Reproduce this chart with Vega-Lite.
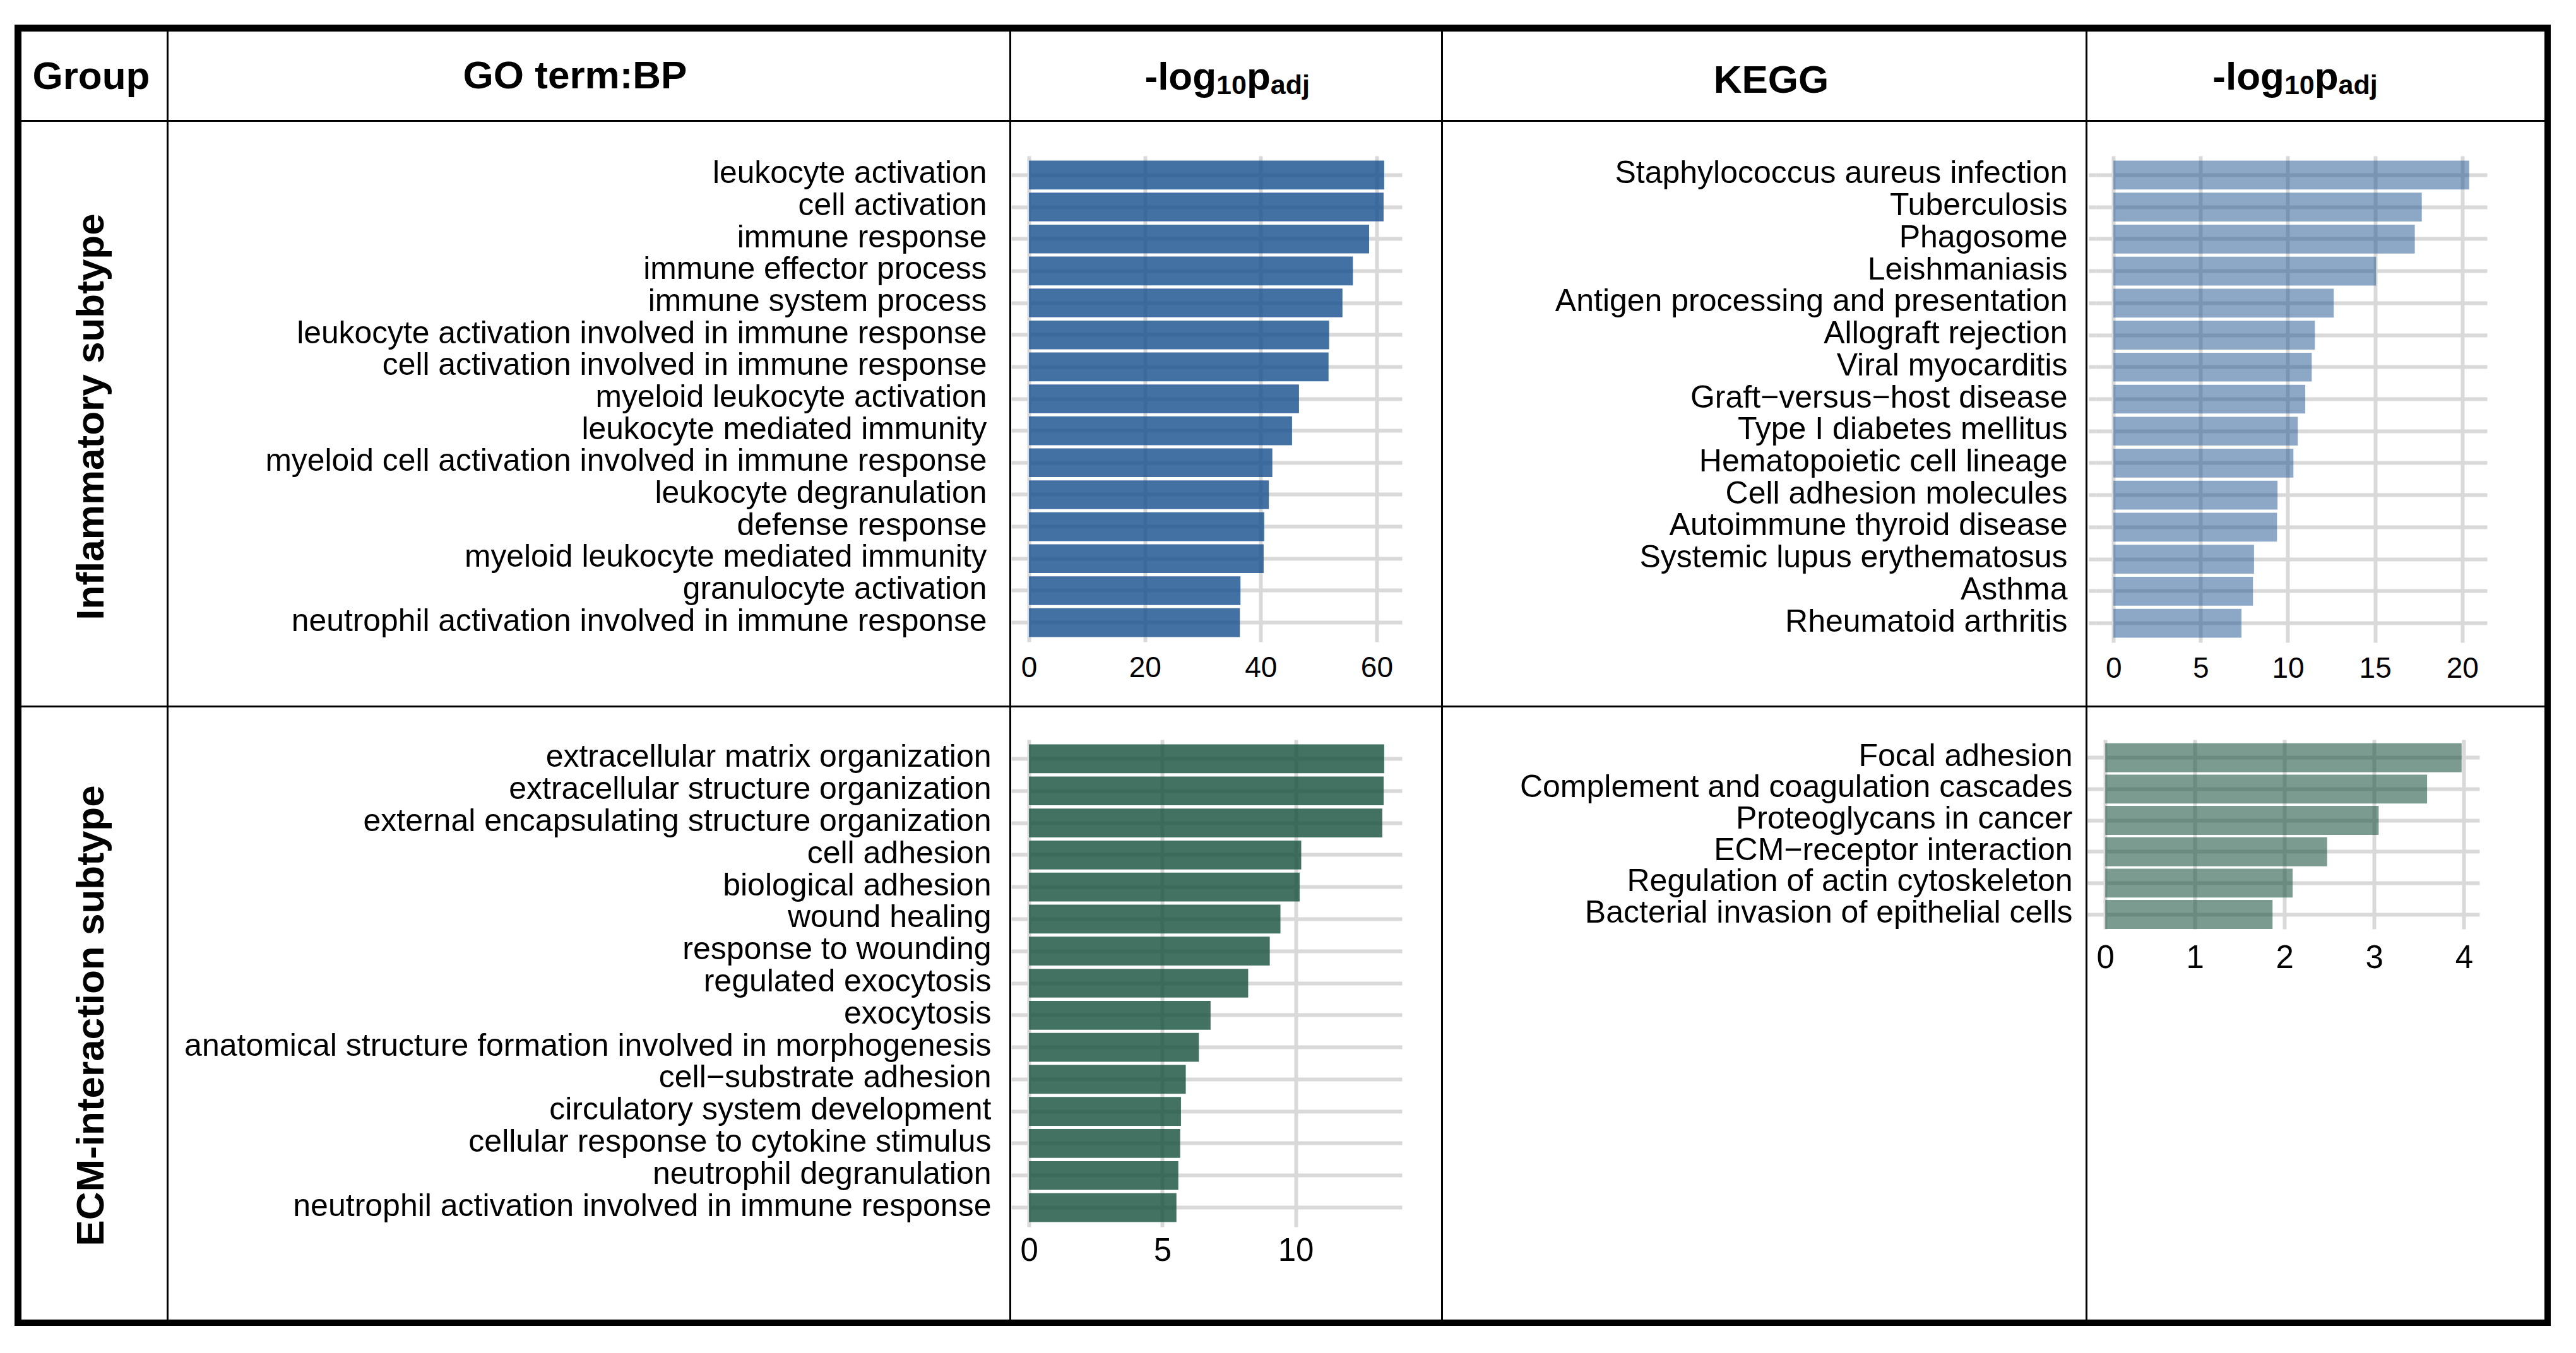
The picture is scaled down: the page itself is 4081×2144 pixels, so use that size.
{
"$schema": "https://vega.github.io/schema/vega-lite/v6.json",
"padding": {"left": 23, "top": 39, "right": 0, "bottom": 0},
"background": "#ffffff",
"config": {"view": {"stroke": null}, "font": "Liberation Sans", "concat": {"spacing": 0}, "axis": {"labelFont": "Liberation Sans", "labelColor": "#000"}},
"datasets": {
"goInf": [
{"term": "leukocyte activation", "value": 61.3},
{"term": "cell activation", "value": 61.2},
{"term": "immune response", "value": 58.7},
{"term": "immune effector process", "value": 55.9},
{"term": "immune system process", "value": 54.1},
{"term": "leukocyte activation involved in immune response", "value": 51.8},
{"term": "cell activation involved in immune response", "value": 51.7},
{"term": "myeloid leukocyte activation", "value": 46.6},
{"term": "leukocyte mediated immunity", "value": 45.4},
{"term": "myeloid cell activation involved in immune response", "value": 42.0},
{"term": "leukocyte degranulation", "value": 41.4},
{"term": "defense response", "value": 40.6},
{"term": "myeloid leukocyte mediated immunity", "value": 40.5},
{"term": "granulocyte activation", "value": 36.5},
{"term": "neutrophil activation involved in immune response", "value": 36.4}
],
"keggInf": [
{"term": "Staphylococcus aureus infection", "value": 20.4},
{"term": "Tuberculosis", "value": 17.68},
{"term": "Phagosome", "value": 17.28},
{"term": "Leishmaniasis", "value": 15.06},
{"term": "Antigen processing and presentation", "value": 12.63},
{"term": "Allograft rejection", "value": 11.55},
{"term": "Viral myocarditis", "value": 11.37},
{"term": "Graft\u2212versus\u2212host disease", "value": 11.0},
{"term": "Type I diabetes mellitus", "value": 10.57},
{"term": "Hematopoietic cell lineage", "value": 10.32},
{"term": "Cell adhesion molecules", "value": 9.41},
{"term": "Autoimmune thyroid disease", "value": 9.38},
{"term": "Systemic lupus erythematosus", "value": 8.06},
{"term": "Asthma", "value": 8.0},
{"term": "Rheumatoid arthritis", "value": 7.34}
],
"goEcm": [
{"term": "extracellular matrix organization", "value": 13.32},
{"term": "extracellular structure organization", "value": 13.30},
{"term": "external encapsulating structure organization", "value": 13.25},
{"term": "cell adhesion", "value": 10.21},
{"term": "biological adhesion", "value": 10.15},
{"term": "wound healing", "value": 9.43},
{"term": "response to wounding", "value": 9.03},
{"term": "regulated exocytosis", "value": 8.22},
{"term": "exocytosis", "value": 6.81},
{"term": "anatomical structure formation involved in morphogenesis", "value": 6.37},
{"term": "cell\u2212substrate adhesion", "value": 5.88},
{"term": "circulatory system development", "value": 5.70},
{"term": "cellular response to cytokine stimulus", "value": 5.67},
{"term": "neutrophil degranulation", "value": 5.60},
{"term": "neutrophil activation involved in immune response", "value": 5.53}
],
"keggEcm": [
{"term": "Focal adhesion", "value": 3.975},
{"term": "Complement and coagulation cascades", "value": 3.59},
{"term": "Proteoglycans in cancer", "value": 3.05},
{"term": "ECM\u2212receptor interaction", "value": 2.475},
{"term": "Regulation of actin cytoskeleton", "value": 2.09},
{"term": "Bacterial invasion of epithelial cells", "value": 1.866}
]
},
"spacing": 0,
"vconcat": [
{"width": 4018, "height": 11, "data": {"values": []}, "mark": "point", "view": {"fill": "#000"}},
{"hconcat": [
  {"width": 11, "height": 140, "data": {"values": []}, "mark": "point", "view": {"fill": "#000"}},
  {"width": 230, "height": 140, "data": {"values": [{"label": "Group"}]}, "mark": {"type": "text", "fontSize": 62, "fontWeight": "bold", "color": "#000", "baseline": "alphabetic", "dx": -4.5, "dy": 20.7}, "encoding": {"text": {"field": "label"}}},
  {"width": 3, "height": 140, "data": {"values": []}, "mark": "point", "view": {"fill": "#000"}},
  {"width": 1332, "height": 140, "data": {"values": [{"label": "GO term:BP"}]}, "mark": {"type": "text", "fontSize": 62, "fontWeight": "bold", "color": "#000", "baseline": "alphabetic", "dx": -22, "dy": 20}, "encoding": {"text": {"field": "label"}}},
  {"width": 3, "height": 140, "data": {"values": []}, "mark": "point", "view": {"fill": "#000"}},
  {"width": 681, "height": 140, "data": {"values": [{"label": "-log10padj"}]}, "layer": [
    {"mark": {"type": "text", "text": "-log", "fontSize": 62, "fontWeight": "bold", "color": "#000", "align": "left", "baseline": "alphabetic", "dx": -129, "dy": 21.7}},
    {"mark": {"type": "text", "text": "10", "fontSize": 43, "fontWeight": "bold", "color": "#000", "align": "left", "baseline": "alphabetic", "dx": -15.4, "dy": 28.5}},
    {"mark": {"type": "text", "text": "p", "fontSize": 62, "fontWeight": "bold", "color": "#000", "align": "left", "baseline": "alphabetic", "dx": 32.4, "dy": 21.7}},
    {"mark": {"type": "text", "text": "adj", "fontSize": 43, "fontWeight": "bold", "color": "#000", "align": "left", "baseline": "alphabetic", "dx": 70.3, "dy": 28.5}}
  ]},
  {"width": 3, "height": 140, "data": {"values": []}, "mark": "point", "view": {"fill": "#000"}},
  {"width": 1018, "height": 140, "data": {"values": [{"label": "KEGG"}]}, "mark": {"type": "text", "fontSize": 62, "fontWeight": "bold", "color": "#000", "baseline": "alphabetic", "dx": 11, "dy": 26.7}, "encoding": {"text": {"field": "label"}}},
  {"width": 3, "height": 140, "data": {"values": []}, "mark": "point", "view": {"fill": "#000"}},
  {"width": 724, "height": 140, "data": {"values": [{"label": "-log10padj"}]}, "layer": [
    {"mark": {"type": "text", "text": "-log", "fontSize": 62, "fontWeight": "bold", "color": "#000", "align": "left", "baseline": "alphabetic", "dx": -163.7, "dy": 21.7}},
    {"mark": {"type": "text", "text": "10", "fontSize": 43, "fontWeight": "bold", "color": "#000", "align": "left", "baseline": "alphabetic", "dx": -50.1, "dy": 28.5}},
    {"mark": {"type": "text", "text": "p", "fontSize": 62, "fontWeight": "bold", "color": "#000", "align": "left", "baseline": "alphabetic", "dx": -2.3, "dy": 21.7}},
    {"mark": {"type": "text", "text": "adj", "fontSize": 43, "fontWeight": "bold", "color": "#000", "align": "left", "baseline": "alphabetic", "dx": 35.6, "dy": 28.5}}
  ]},
  {"width": 10, "height": 140, "data": {"values": []}, "mark": "point", "view": {"fill": "#000"}}
], "spacing": 0, "bounds": "flush"},
{"width": 4018, "height": 3, "data": {"values": []}, "mark": "point", "view": {"fill": "#000"}},
{"hconcat": [
  {"width": 11, "height": 54, "data": {"values": []}, "mark": "point", "view": {"fill": "#000"}},
  {"width": 230, "height": 54, "data": {"values": []}, "mark": "point"},
  {"width": 3, "height": 54, "data": {"values": []}, "mark": "point", "view": {"fill": "#000"}},
  {"width": 1332, "height": 54, "data": {"values": []}, "mark": "point"},
  {"width": 3, "height": 54, "data": {"values": []}, "mark": "point", "view": {"fill": "#000"}},
  {"width": 681, "height": 54, "data": {"values": []}, "mark": "point"},
  {"width": 3, "height": 54, "data": {"values": []}, "mark": "point", "view": {"fill": "#000"}},
  {"width": 1018, "height": 54, "data": {"values": []}, "mark": "point"},
  {"width": 3, "height": 54, "data": {"values": []}, "mark": "point", "view": {"fill": "#000"}},
  {"width": 724, "height": 54, "data": {"values": []}, "mark": "point"},
  {"width": 10, "height": 54, "data": {"values": []}, "mark": "point", "view": {"fill": "#000"}}
], "spacing": 0, "bounds": "flush"},
{"hconcat": [
  {"width": 11, "height": 871, "data": {"values": []}, "mark": "point", "view": {"fill": "#000"}},
  {"width": 230, "height": 871, "data": {"values": [{"label": "Inflammatory subtype"}]}, "mark": {"type": "text", "angle": 270, "fontSize": 62, "fontWeight": "bold", "color": "#000", "dx": 22, "dy": -4}, "encoding": {"text": {"field": "label"}}},
  {"width": 3, "height": 871, "data": {"values": []}, "mark": "point", "view": {"fill": "#000"}},
  {"width": 1332, "height": 871, "data": {"values": []}, "mark": "point"},
  {"width": 3, "height": 871, "data": {"values": []}, "mark": "point", "view": {"fill": "#000"}},
  {"width": 619, "height": 770, "data": {"name": "goInf"},
   "mark": {"type": "bar", "color": "#1b5290", "opacity": 0.82},
   "encoding": {
     "y": {"field": "term", "type": "nominal", "sort": null, "scale": {"paddingInner": 0.1, "paddingOuter": 0.15},
           "axis": {"title": null, "grid": true, "gridColor": "#d9d9d9", "gridWidth": 6, "ticks": false, "domain": false, "labelFontSize": 49.8, "labelPadding": 39, "labelLimit": 3000, "labelOffset": -2}},
     "x": {"field": "value", "type": "quantitative", "scale": {"domain": [-3.065, 64.365], "nice": false, "zero": false},
           "axis": {"title": null, "values": [0, 20, 40, 60], "grid": true, "gridColor": "#d9d9d9", "gridWidth": 6, "ticks": false, "domain": false, "labelFontSize": 46, "labelPadding": 19, "labelFlush": false}}
   }},
  {"width": 62, "height": 871, "data": {"values": []}, "mark": "point"},
  {"width": 3, "height": 871, "data": {"values": []}, "mark": "point", "view": {"fill": "#000"}},
  {"width": 1018, "height": 871, "data": {"values": []}, "mark": "point"},
  {"width": 3, "height": 871, "data": {"values": []}, "mark": "point", "view": {"fill": "#000"}},
  {"width": 13, "height": 871, "data": {"values": []}, "mark": "point"},
  {"width": 620, "height": 771, "data": {"name": "keggInf"},
   "mark": {"type": "bar", "color": "#1b5290", "opacity": 0.5},
   "encoding": {
     "y": {"field": "term", "type": "nominal", "sort": null, "scale": {"paddingInner": 0.1, "paddingOuter": 0.15},
           "axis": {"title": null, "grid": true, "gridColor": "#d9d9d9", "gridWidth": 6, "ticks": true, "tickColor": "#d9d9d9", "tickWidth": 6, "tickSize": 11, "domain": false, "labelFontSize": 50, "labelPadding": 34, "labelLimit": 3000, "labelOffset": -2}},
     "x": {"field": "value", "type": "quantitative", "scale": {"domain": [-1.02, 21.42], "nice": false, "zero": false},
           "axis": {"title": null, "values": [0, 5, 10, 15, 20], "grid": true, "gridColor": "#d9d9d9", "gridWidth": 6, "ticks": false, "domain": false, "labelFontSize": 46, "labelPadding": 19, "labelFlush": false}}
   }},
  {"width": 91, "height": 871, "data": {"values": []}, "mark": "point"},
  {"width": 10, "height": 871, "data": {"values": []}, "mark": "point", "view": {"fill": "#000"}}
], "spacing": 0, "bounds": "flush"},
{"width": 4018, "height": 3, "data": {"values": []}, "mark": "point", "view": {"fill": "#000"}},
{"hconcat": [
  {"width": 11, "height": 51, "data": {"values": []}, "mark": "point", "view": {"fill": "#000"}},
  {"width": 230, "height": 51, "data": {"values": []}, "mark": "point"},
  {"width": 3, "height": 51, "data": {"values": []}, "mark": "point", "view": {"fill": "#000"}},
  {"width": 1332, "height": 51, "data": {"values": []}, "mark": "point"},
  {"width": 3, "height": 51, "data": {"values": []}, "mark": "point", "view": {"fill": "#000"}},
  {"width": 681, "height": 51, "data": {"values": []}, "mark": "point"},
  {"width": 3, "height": 51, "data": {"values": []}, "mark": "point", "view": {"fill": "#000"}},
  {"width": 1018, "height": 51, "data": {"values": []}, "mark": "point"},
  {"width": 3, "height": 51, "data": {"values": []}, "mark": "point", "view": {"fill": "#000"}},
  {"width": 724, "height": 51, "data": {"values": []}, "mark": "point"},
  {"width": 10, "height": 51, "data": {"values": []}, "mark": "point", "view": {"fill": "#000"}}
], "spacing": 0, "bounds": "flush"},
{"hconcat": [
  {"width": 11, "height": 919, "data": {"values": []}, "mark": "point", "view": {"fill": "#000"}},
  {"width": 230, "height": 919, "data": {"values": [{"label": "ECM-interaction subtype"}]}, "mark": {"type": "text", "angle": 270, "fontSize": 62, "fontWeight": "bold", "color": "#000", "dx": 22, "dy": -4}, "encoding": {"text": {"field": "label"}}},
  {"width": 3, "height": 919, "data": {"values": []}, "mark": "point", "view": {"fill": "#000"}},
  {"width": 1332, "height": 919, "data": {"values": []}, "mark": "point"},
  {"width": 3, "height": 919, "data": {"values": []}, "mark": "point", "view": {"fill": "#000"}},
  {"width": 619, "height": 772, "data": {"name": "goEcm"},
   "mark": {"type": "bar", "color": "#1b533f", "opacity": 0.82},
   "encoding": {
     "y": {"field": "term", "type": "nominal", "sort": null, "scale": {"paddingInner": 0.1, "paddingOuter": 0.15},
           "axis": {"title": null, "grid": true, "gridColor": "#d9d9d9", "gridWidth": 6, "ticks": false, "domain": false, "labelFontSize": 50, "labelPadding": 32, "labelLimit": 3000, "labelOffset": -2}},
     "x": {"field": "value", "type": "quantitative", "scale": {"domain": [-0.666, 13.986], "nice": false, "zero": false},
           "axis": {"title": null, "values": [0, 5, 10], "grid": true, "gridColor": "#d9d9d9", "gridWidth": 6, "ticks": false, "domain": false, "labelFontSize": 51, "labelPadding": 13, "labelFlush": false}}
   }},
  {"width": 62, "height": 919, "data": {"values": []}, "mark": "point"},
  {"width": 3, "height": 919, "data": {"values": []}, "mark": "point", "view": {"fill": "#000"}},
  {"width": 1018, "height": 919, "data": {"values": []}, "mark": "point"},
  {"width": 3, "height": 919, "data": {"values": []}, "mark": "point", "view": {"fill": "#000"}},
  {"width": 621, "height": 300, "data": {"name": "keggEcm"},
   "mark": {"type": "bar", "color": "#1b533f", "opacity": 0.58},
   "encoding": {
     "y": {"field": "term", "type": "nominal", "sort": null, "scale": {"paddingInner": 0.075, "paddingOuter": 0.058, "align": 1},
           "axis": {"title": null, "grid": true, "gridColor": "#d9d9d9", "gridWidth": 6, "ticks": false, "domain": false, "labelFontSize": 50, "labelPadding": 24, "labelLimit": 3000, "labelOffset": -2}},
     "x": {"field": "value", "type": "quantitative", "scale": {"domain": [-0.19875, 4.17375], "nice": false, "zero": false},
           "axis": {"title": null, "values": [0, 1, 2, 3, 4], "grid": true, "gridColor": "#d9d9d9", "gridWidth": 6, "ticks": false, "domain": false, "labelFontSize": 51, "labelPadding": 21.5, "labelFlush": false}}
   }},
  {"width": 103, "height": 919, "data": {"values": []}, "mark": "point"},
  {"width": 10, "height": 919, "data": {"values": []}, "mark": "point", "view": {"fill": "#000"}}
], "spacing": 0, "bounds": "flush"},
{"width": 4018, "height": 10, "data": {"values": []}, "mark": "point", "view": {"fill": "#000"}}
]
}
